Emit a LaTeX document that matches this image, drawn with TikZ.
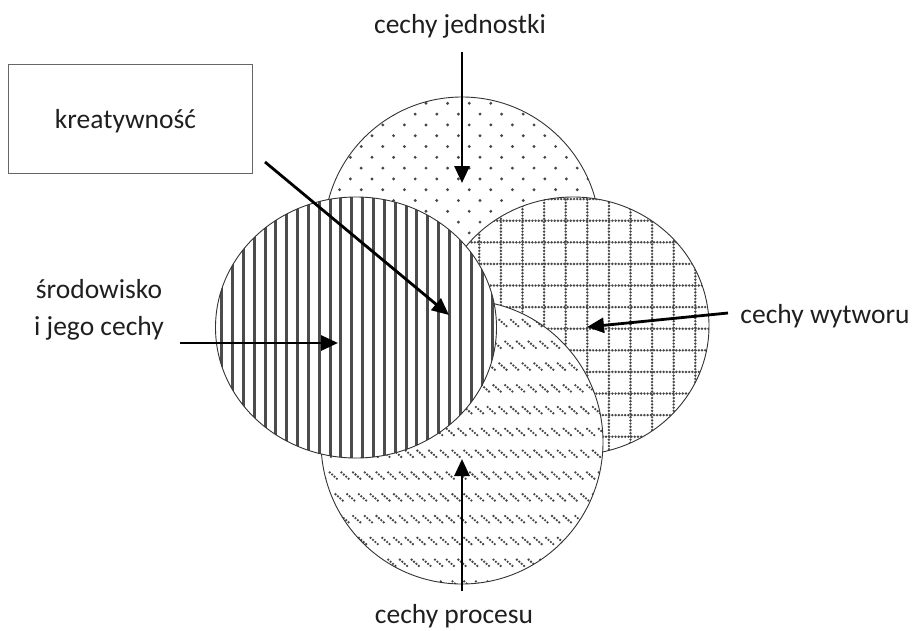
\documentclass[tikz,border=0pt]{standalone}
\usepackage{fontspec}
\setmainfont{Carlito}
\usetikzlibrary{arrows.meta}

\begin{document}
\begin{tikzpicture}[x=1pt,y=-1pt,
  lbl/.style={font=\fontsize{27.5}{37}\selectfont, text=black!88, inner sep=0pt, anchor=base},
  ptr/.style={line width=2.8pt, -{Triangle[length=17pt,width=15pt]}},
  ring/.style={draw=black!80, line width=0.9pt},
  pat/.style={black!72}]
\useasboundingbox (0,0) rectangle (913,630);

% ---- circle: cechy jednostki (dotted fill)
\coordinate (ct) at (462,235);
\fill[white] (ct) circle[radius=138];
\begin{scope}
  \clip (ct) circle[radius=138];
  \foreach \j in {0,...,26} {
    \foreach \i in {0,...,13} {
      \fill[pat] ({318+\i*21.6+mod(\j,2)*10.8},{103.3+\j*10.8}) circle[radius=1.6];
    }
  }
\end{scope}
\draw[ring] (ct) circle[radius=138];

% ---- circle: cechy wytworu (dotted grid)
\coordinate (cr) at (573,326);
\fill[white] (cr) ellipse[x radius=136, y radius=129];
\begin{scope}
  \clip (cr) ellipse[x radius=136, y radius=129];
  \foreach \i in {-5,...,12} {
    \draw[pat, line width=2.7pt, line cap=round, dash pattern=on 0pt off 3.2pt]
      ({479.3+\i*21.6},190) -- ({479.3+\i*21.6},460);
    \draw[pat, line width=2.7pt, line cap=round, dash pattern=on 0pt off 3.2pt]
      (430,{220.7+\i*21.6}) -- (715,{220.7+\i*21.6});
  }
\end{scope}
\draw[ring] (cr) ellipse[x radius=136, y radius=129];

% ---- circle: cechy procesu (short dotted downward diagonals)
\coordinate (cb) at (462,442);
\fill[white] (cb) ellipse[x radius=141, y radius=142];
\begin{scope}
  \clip (cb) ellipse[x radius=141, y radius=142];
  \foreach \j in {0,...,13} {
    \foreach \i in {0,...,25} {
      \foreach \d in {0,1,2,3} {
        \fill[pat] ({318+\i*11.7+mod(\j,2)*5.8+\d*2.4},{298+\j*21.8+\d*2.1}) circle[radius=1.3];
      }
    }
  }
\end{scope}
\draw[ring] (cb) ellipse[x radius=141, y radius=142];

% ---- circle: srodowisko (vertical stripes)
\coordinate (cl) at (356,327.5);
\fill[white] (cl) ellipse[x radius=140.5, y radius=130.5];
\begin{scope}
  \clip (cl) ellipse[x radius=140.5, y radius=130.5];
  \foreach \i in {-3,...,24} {
    \draw[black!70, line width=3pt] ({243.3+\i*10.85},190) -- ({243.3+\i*10.85},465);
  }
\end{scope}
\draw[ring] (cl) ellipse[x radius=140.5, y radius=130.5];

% ---- box
\node[draw=black!60, line width=0.8pt, minimum width=244pt, minimum height=109pt, inner sep=0pt]
  (box) at (130,118.5) {};
\node[lbl] (kre) at (125.5,128) {kreatywność};

% ---- labels
\node[lbl] (tj) at (460,33) {cechy jednostki};
\node[lbl] (tp) at (454,623) {cechy procesu};
\node[lbl] (tw) at (825,323) {cechy wytworu};
\node[lbl, align=center] (ts) at (99,335) {środowisko\\i jego cechy};

% ---- arrow ends
\coordinate (aj0) at (462,52);   \coordinate (aj1) at (462,183);
\coordinate (ap0) at (462,591);  \coordinate (ap1) at (462,459);
\coordinate (aw0) at (728,313);  \coordinate (aw1) at (587,327);
\coordinate (as0) at (180,343);  \coordinate (as1) at (338,343);
\coordinate (ak0) at (265,162);  \coordinate (ak1) at (449,315);

\draw[ptr] (aj0) -- (aj1);
\draw[ptr] (ap0) -- (ap1);
\draw[ptr] (aw0) -- (aw1);
\draw[ptr] (as0) -- (as1);
\draw[ptr] (ak0) -- (ak1);
\end{tikzpicture}
\end{document}
